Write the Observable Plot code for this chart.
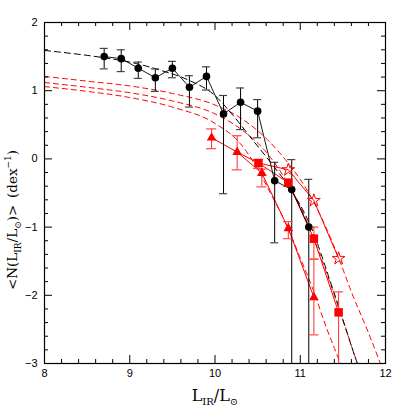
<!DOCTYPE html>
<html>
<head>
<meta charset="utf-8">
<script src="https://cdn.jsdelivr.net/npm/d3@7"></script>
<script src="https://cdn.jsdelivr.net/npm/@observablehq/plot@0.6"></script>
<style>
  html, body { margin: 0; padding: 0; background: #fff; }
  #chart { width: 407px; height: 407px; }
</style>
</head>
<body>
<div id="chart"></div>
<script>
// ---- data ----
const xTicks = [8, 9, 10, 11, 12];
const yTicks = [-3, -2, -1, 0, 1, 2];

// black circles (with asymmetric errors)
const blackX  = [8.70, 8.90, 9.10, 9.30, 9.50, 9.70, 9.90, 10.10, 10.30, 10.50, 10.70, 10.90, 11.10];
const blackY  = [1.50, 1.47, 1.33, 1.19, 1.33, 1.05, 1.21, 0.66, 0.83, 0.70, -0.32, -0.45, -1.00];
const blackLo = [1.32, 1.28, 1.18, 0.99, 1.19, 0.76, 1.01, -0.51, 0.43, 0.31, -1.23, -4.00, -4.00];
const blackHi = [1.62, 1.60, 1.42, 1.32, 1.43, 1.22, 1.35, 0.93, 1.04, 0.87, -0.05, -0.01, -0.30];

// red triangles
const triX  = [9.96, 10.26, 10.55, 10.86, 11.16];
const triY  = [0.31, 0.10, -0.21, -1.02, -2.03];
const triLo = [0.15, -0.16, -0.41, -1.17, -2.58];
const triHi = [0.44, 0.34, -0.15, -0.92, -1.47];

// red squares
const sqX  = [10.51, 10.86, 11.16, 11.45];
const sqY  = [-0.06, -0.35, -1.17, -2.25];
const sqLo = [-0.14, -0.40, -1.47, -4.00];
const sqHi = [-0.01, -0.30, -1.00, -1.95];

// red open stars
const starX = [10.86, 11.16, 11.45];
const starY = [-0.16, -0.61, -1.46];

// solid red connecting lines
const sqLineX   = [10.26, 10.51, 10.86, 11.16, 11.45];
const sqLineY   = [0.10, -0.06, -0.35, -1.17, -2.25];
const starLineX = [10.51, 10.86, 11.16, 11.45];
const starLineY = [-0.06, -0.16, -0.61, -1.46];

// black dashed model curve
const bdX = [8.00, 8.66, 9.00, 9.36, 9.70, 9.98, 10.21, 10.44, 10.67, 10.90, 11.12, 11.38, 11.67, 11.80];
const bdY = [1.59, 1.49, 1.42, 1.30, 1.15, 0.95, 0.64, 0.28, -0.08, -0.47, -0.98, -1.90, -3.00, -3.45];

// red dashed model curves
const rTopX = [8.0, 8.5, 9.0, 9.5, 10.0, 10.3, 10.6, 10.85, 11.1, 11.3, 11.45, 11.6, 11.8, 11.94, 12.0];
const rTopY = [1.21, 1.14, 1.07, 0.96, 0.79, 0.60, 0.30, -0.05, -0.50, -1.00, -1.45, -1.95, -2.55, -3.00, -3.20];
const rMidX = [8.0, 8.5, 9.0, 9.5, 10.0, 10.3, 10.6, 10.85, 11.0, 11.2, 11.4, 11.55, 11.67, 11.8];
const rMidY = [1.12, 1.05, 0.97, 0.85, 0.66, 0.44, 0.10, -0.35, -0.70, -1.30, -2.00, -2.55, -3.00, -3.45];
const rLowX = [8.0, 8.5, 9.0, 9.5, 10.0, 10.3, 10.5, 10.65, 10.85, 11.0, 11.16, 11.3, 11.47, 11.6];
const rLowY = [1.06, 0.99, 0.90, 0.76, 0.52, 0.22, -0.15, -0.50, -1.00, -1.45, -1.95, -2.45, -3.00, -3.45];

// ---- build tables ----
const pts = (xs, ys) => xs.map((x, i) => ({x, y: ys[i]}));
const errs = (xs, ys, lo, hi) => xs.map((x, i) => ({x, y: ys[i], lo: lo[i], hi: hi[i]}));

const black = errs(blackX, blackY, blackLo, blackHi);
const tri = errs(triX, triY, triLo, triHi);
const sq = errs(sqX, sqY, sqLo, sqHi);
const star = pts(starX, starY);

const W = 407, H = 407, mT = 22, mR = 22, mB = 44, mL = 44;
const fw = W - mL - mR, fh = H - mT - mB;
const majorLen = 8, minorLen = 4;
const xMinor = d3.range(8, 12.001, 0.2).map(v => +v.toFixed(1)).filter(v => !xTicks.includes(v));
const yMinor = d3.range(-3, 2.001, 0.2).map(v => +v.toFixed(1)).filter(v => !yTicks.includes(v));

const RED = "#ff0000";
const fmt = d => d < 0 ? "\u2212" + (-d) : String(d);

const chart = Plot.plot({
  width: W, height: H,
  marginTop: mT, marginRight: mR, marginBottom: mB, marginLeft: mL,
  x: {domain: [8, 12]},
  y: {domain: [-3, 2]},
  style: {fontFamily: "Liberation Sans, sans-serif", fontSize: "11px", background: "#fff", color: "#000"},
  marks: [
    // model curves
    Plot.line(pts(rTopX, rTopY), {x: "x", y: "y", stroke: RED, strokeWidth: 1, strokeDasharray: "5,4", curve: "monotone-x", clip: true}),
    Plot.line(pts(rMidX, rMidY), {x: "x", y: "y", stroke: RED, strokeWidth: 1, strokeDasharray: "5,4", curve: "monotone-x", clip: true}),
    Plot.line(pts(rLowX, rLowY), {x: "x", y: "y", stroke: RED, strokeWidth: 1, strokeDasharray: "5,4", curve: "monotone-x", clip: true}),
    Plot.line(pts(bdX, bdY), {x: "x", y: "y", stroke: "#000", strokeWidth: 1, strokeDasharray: "6,4", curve: "monotone-x", clip: true}),

    // red connecting lines
    Plot.line(tri, {x: "x", y: "y", stroke: RED, strokeWidth: 1, clip: true}),
    Plot.line(pts(sqLineX, sqLineY), {x: "x", y: "y", stroke: RED, strokeWidth: 1, clip: true}),
    Plot.line(pts(starLineX, starLineY), {x: "x", y: "y", stroke: RED, strokeWidth: 1, clip: true}),

    // black connecting line
    Plot.line(black, {x: "x", y: "y", stroke: "#000", strokeWidth: 0.9, clip: true}),

    // error bars
    Plot.ruleX(black, {x: "x", y1: "lo", y2: "hi", stroke: "#000", strokeWidth: 1, clip: true}),
    Plot.ruleY(black, {y: "hi", x1: "x", x2: "x", insetLeft: -4, insetRight: -4, stroke: "#444", strokeWidth: 1.2, clip: true}),
    Plot.ruleY(black, {y: "lo", x1: "x", x2: "x", insetLeft: -4, insetRight: -4, stroke: "#444", strokeWidth: 1.2, clip: true}),

    Plot.ruleX(tri, {x: "x", y1: "lo", y2: "hi", stroke: "#ff2a2a", strokeWidth: 1, clip: true}),
    Plot.ruleY(tri, {y: "hi", x1: "x", x2: "x", insetLeft: -5, insetRight: -5, stroke: "#ff4a4a", strokeWidth: 1.2, clip: true}),
    Plot.ruleY(tri, {y: "lo", x1: "x", x2: "x", insetLeft: -5, insetRight: -5, stroke: "#ff4a4a", strokeWidth: 1.2, clip: true}),
    Plot.ruleX(sq, {x: "x", y1: "lo", y2: "hi", stroke: "#ff2a2a", strokeWidth: 1, clip: true}),
    Plot.ruleY(sq, {y: "hi", x1: "x", x2: "x", insetLeft: -5, insetRight: -5, stroke: "#ff4a4a", strokeWidth: 1.2, clip: true}),
    Plot.ruleY(sq, {y: "lo", x1: "x", x2: "x", insetLeft: -5, insetRight: -5, stroke: "#ff4a4a", strokeWidth: 1.2, clip: true}),

    // markers
    Plot.dot(black, {x: "x", y: "y", r: 3.8, fill: "#000", stroke: "none"}),
    Plot.dot(tri, {x: "x", y: "y", symbol: "triangle", r: 3.6, fill: RED, stroke: "none"}),
    Plot.dot(sq, {x: "x", y: "y", symbol: "square", r: 4.8, fill: RED, stroke: "none"}),
    Plot.dot(star, {x: "x", y: "y", symbol: "star", r: 4.0, fill: "#fff", fillOpacity: 0, stroke: RED, strokeWidth: 1}),

    // frame and inward ticks on all four sides
    Plot.frame({stroke: "#000", strokeWidth: 1.2}),
    Plot.tickX(xTicks, {x: d => d, insetTop: fh - majorLen, stroke: "#000"}),
    Plot.tickX(xTicks, {x: d => d, insetBottom: fh - majorLen, stroke: "#000"}),
    Plot.tickX(xMinor, {x: d => d, insetTop: fh - minorLen, stroke: "#000"}),
    Plot.tickX(xMinor, {x: d => d, insetBottom: fh - minorLen, stroke: "#000"}),
    Plot.tickY(yTicks, {y: d => d, insetRight: fw - majorLen, stroke: "#000"}),
    Plot.tickY(yTicks, {y: d => d, insetLeft: fw - majorLen, stroke: "#000"}),
    Plot.tickY(yMinor, {y: d => d, insetRight: fw - minorLen, stroke: "#000"}),
    Plot.tickY(yMinor, {y: d => d, insetLeft: fw - minorLen, stroke: "#000"}),

    // tick labels
    Plot.axisX({ticks: xTicks, tickSize: 0, tickPadding: 6, tickFormat: fmt, label: null}),
    Plot.axisY({ticks: yTicks, tickSize: 0, tickPadding: 7, tickFormat: fmt, label: null})
  ]
});

document.getElementById("chart").appendChild(chart);

// axis titles with sub/superscripts
const svg = d3.select(chart);
const serif = "DejaVu Serif, Liberation Serif, serif";

const xt = svg.append("text")
  .attr("x", 215).attr("y", 401)
  .attr("text-anchor", "middle")
  .attr("font-family", serif).attr("font-size", 16).attr("fill", "#000");
xt.append("tspan").text("L");
xt.append("tspan").attr("font-size", 10).attr("dy", 4).text("IR");
xt.append("tspan").attr("dy", -4).text("/L");
xt.append("tspan").attr("font-size", 10).attr("dy", 4).text("\u2299");

const yt = svg.append("text")
  .attr("transform", "translate(17,220) rotate(-90)")
  .attr("text-anchor", "middle")
  .attr("font-family", serif).attr("font-size", 13.5).attr("fill", "#000");
yt.append("tspan").text("<N(L");
yt.append("tspan").attr("font-size", 9).attr("dy", 4).text("IR");
yt.append("tspan").attr("dy", -4).text("/L");
yt.append("tspan").attr("font-size", 9).attr("dy", 4).text("\u2299");
yt.append("tspan").attr("dy", -4).text(")>\u2002(dex");
yt.append("tspan").attr("font-size", 9).attr("dy", -6).text("\u22121");
yt.append("tspan").attr("dy", 6).text(")");
</script>
</body>
</html>
